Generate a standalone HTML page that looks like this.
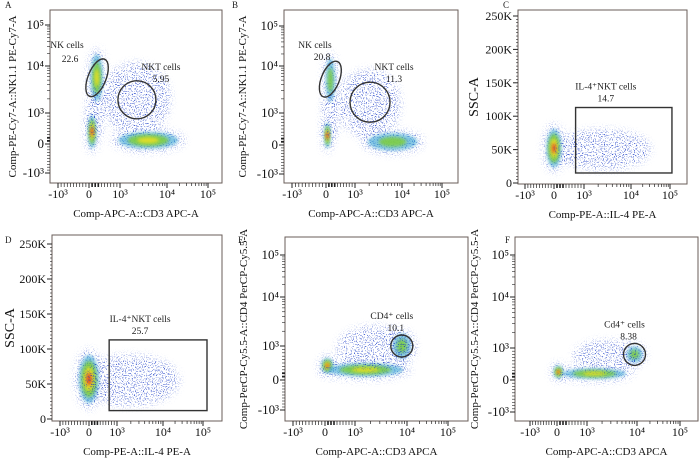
<!DOCTYPE html>
<html><head><meta charset="utf-8"><style>
html,body{margin:0;padding:0;background:#fff;}
svg{display:block;font-family:"Liberation Serif",serif;}
</style></head><body>
<svg id="fig" width="700" height="459" viewBox="0 0 700 459">
<defs>
<filter id="blur1" x="-50%" y="-50%" width="200%" height="200%"><feGaussianBlur stdDeviation="1.5"/></filter>
<filter id="speckle" x="-50%" y="-50%" width="200%" height="200%">
 <feGaussianBlur in="SourceGraphic" stdDeviation="4" result="b"/>
 <feTurbulence type="fractalNoise" baseFrequency="0.9" numOctaves="1" seed="5" result="n"/>
 <feColorMatrix in="n" type="matrix" values="0 0 0 0 0  0 0 0 0 0  0 0 0 0 0  9 0 0 0 -5.1" result="m"/>
 <feComposite in="b" in2="m" operator="in"/>
</filter>
</defs>
</svg>
<script>
// ---- data (cluster centres/spreads in axis units) ----
const panelIds = ["A","B","C","D","E","F"];
const clustersA = [[1.35,1.3,0.65,0.7,0],[0.25,1.75,0.22,0.6,2],[0.1,0.4,0.15,0.6,3],[1.6,0.12,0.75,0.3,2],[0.2,1.0,0.2,0.5,0]];
const clustersB = [[1.3,1.2,0.6,0.65,0],[0.15,1.7,0.18,0.55,1],[0.05,0.3,0.12,0.45,3],[1.8,0.1,0.65,0.3,1],[0.15,0.9,0.2,0.5,0]];
const clustersC = [[0,52000,0.28,32000,3],[1.4,50000,1.0,26000,0]];
const clustersD = [[0,57000,0.4,38000,3],[1.3,55000,1.0,32000,0]];
const clustersE = [[0.08,0.42,0.22,0.25,3],[1.2,0.3,0.8,0.22,2],[1.9,1.0,0.22,0.28,1],[1.4,0.95,0.7,0.4,0]];
const clustersF = [[0.05,0.25,0.18,0.22,3],[1.15,0.2,0.7,0.18,2],[1.95,0.8,0.2,0.25,1],[1.4,0.75,0.6,0.35,0]];
const tickLabelsLog = ["-10³","0","10³","10⁴","10⁵"];
const tickValsLog = [-1,0,1,2,3];
const tickLabelsLin = ["0","50K","100K","150K","200K","250K"];
const tickValsLin = [0,50000,100000,150000,200000,250000];
const gateTexts = [["NK cells","22.6","NKT cells","5.95"],["NK cells","20.8","NKT cells","11.3"],["IL-4⁺NKT cells","14.7"],["IL-4⁺NKT cells","25.7"],["CD4⁺ cells","10.1"],["Cd4⁺ cells","8.38"]];

const P = {
 A:{f:[50,10,222,183],xp:[58,89,120,167,208],yp:[173,144,113,66,25],ylin:false,lx:5,ly:8,yt:"Comp-PE-Cy7-A::NK1.1 PE-Cy7-A",xt:"Comp-APC-A::CD3 APC-A",ytx:16,cl:clustersA},
 B:{f:[284,10,458,183],xp:[292,326,355,402,442],yp:[174,145,113,66,26],ylin:false,lx:232,ly:8,yt:"Comp-PE-Cy7-A::NK1.1 PE-Cy7-A",xt:"Comp-APC-A::CD3 APC-A",ytx:246,cl:clustersB},
 C:{f:[518,10,687,184],xp:[525,554,584,631,670],yp:[183,16],ylin:true,lx:503,ly:8,yt:"SSC-A",xt:"Comp-PE-A::IL-4 PE-A",ytx:478,cl:clustersC},
 D:{f:[52,235,222,421],xp:[60,89,117,163,203],yp:[419,244],ylin:true,lx:5,ly:243,yt:"SSC-A",xt:"Comp-PE-A::IL-4 PE-A",ytx:14,cl:clustersD},
 E:{f:[285,237,468,421],xp:[293,325,355,407,448],yp:[410,380,346,297,255],ylin:false,lx:238,ly:243,yt:"Comp-PerCP-Cy5.5-A::CD4 PerCP-Cy5.5-A",xt:"Comp-APC-A::CD3 APCA",ytx:247,cl:clustersE},
 F:{f:[515,237,698,421],xp:[530,557,587,637,680],yp:[412,380,348,297,255],ylin:false,lx:505,ly:243,yt:"Comp-PerCP-Cy5.5-A::CD4 PerCP-Cy5.5-A",xt:"Comp-APC-A::CD3 APCA",ytx:478,cl:clustersF}
};
const svg=document.getElementById('fig');
const NS="http://www.w3.org/2000/svg";
function mk(tag,attrs,parent){const e=document.createElementNS(NS,tag);for(const k in attrs)e.setAttribute(k,attrs[k]);(parent||svg).appendChild(e);return e;}
function interp(v,vals,pix){
 if(v<=vals[0]) return pix[0]+(v-vals[0])*(pix[1]-pix[0])/(vals[1]-vals[0]);
 for(let i=1;i<vals.length;i++){if(v<=vals[i]) return pix[i-1]+(v-vals[i-1])*(pix[i]-pix[i-1])/(vals[i]-vals[i-1]);}
 const n=vals.length-1;return pix[n]+(v-vals[n])*(pix[n]-pix[n-1])/(vals[n]-vals[n-1]);}
function xs(p,v){return interp(v,tickValsLog,p.xp);}
function ys(p,v){return p.ylin? interp(v,[0,250000],p.yp) : interp(v,tickValsLog,p.yp);}
const colors=["#2040c0","#2fa0d0","#7fcf3a","#f0e020","#e83020"];

panelIds.forEach((id,pi)=>{
 const p=P[id]; const [x0,y0,x1,y1]=p.f;
 const g=mk('g',{});  
 const lt=mk('text',{x:p.lx,y:p.ly,'font-size':9,fill:'#222'},g); lt.textContent=id;
  
 const cg=mk('g',{},g);  
 p.cl.forEach((c,ci)=>{
  const cx=xs(p,c[0]), cy=ys(p,c[1]);
  const rx=Math.abs(xs(p,c[0]+c[2])-cx);
  const ry=Math.abs(ys(p,c[1]+c[3])-cy);
  const h=mk('ellipse',{cx:cx,cy:cy,rx:rx*1.05+2,ry:ry*1.05+2,fill:'#1a3cc8',opacity:0.85,filter:'url(#speckle)'},cg);
   
  for(let l=1;l<=c[4]+1 && l<colors.length;l++){
   if(c[4]==0) break;
   const s=0.9-(l-1)/(c[4]+1.5);
   const e=mk('ellipse',{cx:cx,cy:cy,rx:Math.max(1.5,rx*s),ry:Math.max(1.5,ry*s),fill:colors[l],opacity:l==1?0.6:0.85,filter:'url(#blur1)'},cg);
    
  }
 });
 const fr=mk('rect',{x:x0,y:y0,width:x1-x0,height:y1-y0,fill:'none',stroke:'#6a5e58','stroke-width':1},g);
  
 const xa=mk('g',{},g);  
 tickValsLog.forEach((v,i)=>{
  const x=xs(p,v);
  mk('line',{x1:x,x2:x,y1:y1,y2:y1+5,stroke:'#222','stroke-width':1},xa);
  const t=mk('text',{x:x,y:y1+15,'font-size':12,'text-anchor':'middle',fill:'#111'},xa); t.textContent=tickLabelsLog[i];
   
  if(i<4){for(let k=1;k<10;k++){const xm=v>=1? xs(p,v+Math.log10(k+1)): xs(p,v+k/10);
   mk('line',{x1:xm,x2:xm,y1:y1,y2:y1+(v==-1||v==0?4:3),stroke:'#222','stroke-width':(v==0&&k<4)?1.6:0.7},xa);}}
 });
 const xtl=mk('text',{x:(x0+x1)/2,y:y1+34,'font-size':11,'text-anchor':'middle',fill:'#111'},g); xtl.textContent=p.xt;
  
 const ya=mk('g',{},g);  
 const yv=p.ylin?tickValsLin:tickValsLog, yl=p.ylin?tickLabelsLin:tickLabelsLog;
 yv.forEach((v,i)=>{
  const y=ys(p,v);
  mk('line',{x1:x0-5,x2:x0,y1:y,y2:y,stroke:'#222','stroke-width':1},ya);
  const t=mk('text',{x:x0-6,y:y+4,'font-size':p.ylin?12:13,'text-anchor':'end',fill:'#111'},ya); t.textContent=yl[i];
   
  if(i<yv.length-1){for(let k=1;k<10;k++){const ym=p.ylin? ys(p,v+k*5000): (v>=1? ys(p,v+Math.log10(k+1)): ys(p,v+k/10));
   mk('line',{x1:x0-(p.ylin?2:3),x2:x0,y1:ym,y2:ym,stroke:'#222','stroke-width':(!p.ylin&&v==0&&k<3)?1.8:0.6},ya);}}
 });
 const cy=(y0+y1)/2;
 const ytl=mk('text',{x:p.ytx,y:cy,'font-size':p.ylin?14:11,'text-anchor':'middle',fill:'#111',transform:`rotate(-90 ${p.ytx} ${cy})`},g); ytl.textContent=p.yt;
  
 const gg=mk('g',{},g);  
 const T=gateTexts[pi];
 function lab(txt,x,y,n){const t=mk('text',{x:x,y:y,'font-size':9.5,'text-anchor':'middle',fill:'#222'},gg);t.textContent=txt;}
 if(id=='A'||id=='B'){
  const nk=id=='A'?[0.26,1.75,9,20]:[0.15,1.72,9,19];
  const nkt=id=='A'?[1.36,1.28,19]:[1.32,1.23,20];
  const ex=xs(p,nk[0]),ey=ys(p,nk[1]);
  const e=mk('ellipse',{cx:ex,cy:ey,rx:nk[2],ry:nk[3],fill:'none',stroke:'#333','stroke-width':1.4,transform:`rotate(22 ${ex} ${ey})`},gg);
   
  const c=mk('circle',{cx:xs(p,nkt[0]),cy:ys(p,nkt[1]),r:nkt[2],fill:'none',stroke:'#333','stroke-width':1.4},gg);
   
  lab(T[0],x0+17+(id=='B'?14:0),y0+38,'nk-label'); lab(T[1],x0+20+(id=='B'?18:0),y0+52-(id=='B'?2:0),'nk-value');
  lab(T[2],xs(p,nkt[0])+24,y0+60,'nkt-label'); lab(T[3],xs(p,nkt[0])+24,y0+72,'nkt-value');
 } else if(id=='C'||id=='D'){
  const gx0=xs(p,0.72),gx1=xs(p,id=='C'?3.05:3.1),gy0=ys(p,113000),gy1=ys(p,id=='C'?15000:12000);
  const r=mk('rect',{x:gx0,y:gy0,width:gx1-gx0,height:gy1-gy0,fill:'none',stroke:'#333','stroke-width':1.4},gg);
   
  lab(T[0],(gx0+gx1)/2-18,gy0-18,'gate-label'); lab(T[1],(gx0+gx1)/2-18,gy0-6,'gate-value');
 } else {
  const c0=id=='E'?[1.9,1.0]:[1.95,0.8];
  const c=mk('circle',{cx:xs(p,c0[0]),cy:ys(p,c0[1]),r:11,fill:'none',stroke:'#333','stroke-width':1.4},gg);
   
  lab(T[0],xs(p,c0[0])-10,ys(p,c0[1])-27,'gate-label'); lab(T[1],xs(p,c0[0])-6,ys(p,c0[1])-15,'gate-value');
 }
});
</script>
</body></html>
